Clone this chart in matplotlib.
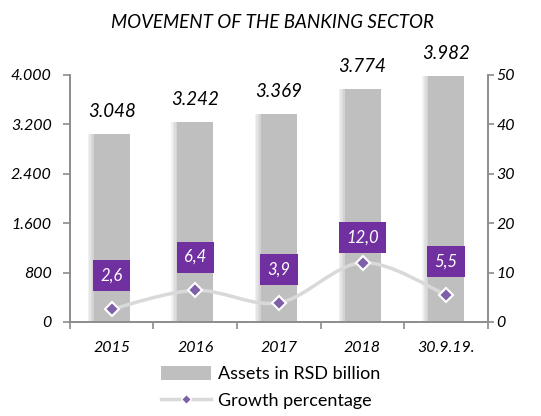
import matplotlib.pyplot as plt
import numpy as np
from matplotlib.path import Path
from matplotlib.patches import PathPatch
from matplotlib.lines import Line2D
from matplotlib.patches import Patch

periods = ['2015', '2016', '2017', '2018', '30.9.19.']
assets = [3048, 3242, 3369, 3774, 3982]
growth = [2.6, 6.4, 3.9, 12.0, 5.5]
asset_labels = ['3.048', '3.242', '3.369', '3.774', '3.982']
growth_labels = ['2,6', '6,4', '3,9', '12,0', '5,5']
left_ticks = [0, 800, 1600, 2400, 3200, 4000]
left_ticklabels = ['0', '800', '1.600', '2.400', '3.200', '4.000']
right_ticks = [0, 10, 20, 30, 40, 50]

plt.rcParams['font.family'] = ['Lato', 'DejaVu Sans']
grey = '#8c8c8c'
purple = '#7030A0'

fig = plt.figure(figsize=(5.41, 4.16), dpi=100)
ax = fig.add_axes([0.129, 0.226, 0.773, 0.594])
ax2 = ax.twinx()

x = np.arange(len(periods))
w = 0.43
# soft shadow on the left side of the bars
for k, a in enumerate([0.06, 0.06, 0.07, 0.08]):
    ax.bar(x - 0.018 * (k + 1), assets, width=w, color='#505050', alpha=a, zorder=1, linewidth=0)
ax.bar(x, assets, width=w, color='#BFBFBF', zorder=2, linewidth=0)

for xi, v, lab in zip(x, assets, asset_labels):
    ax.annotate(lab, (xi, v), xytext=(0, 10), textcoords='offset points',
                ha='center', va='bottom', fontsize=13.5, style='italic')

ax.set_xlim(-0.5, len(periods) - 0.5)
ax.set_ylim(0, 4000)
ax.set_yticks(left_ticks)
ax.set_yticklabels(left_ticklabels, fontsize=11.5, style='italic')
ax.set_xticks(np.arange(len(periods) + 1) - 0.5)
ax.set_xticklabels([])
ax.set_xticks(x, minor=True)
ax.set_xticklabels(periods, minor=True, fontsize=11.5, style='italic')
ax.tick_params(axis='x', which='minor', length=0, pad=14)
ax.tick_params(axis='x', which='major', length=5, color=grey, width=1.2)
ax.tick_params(axis='y', length=5, color=grey, width=1.2, pad=8)

ax.spines['top'].set_visible(False)
ax2.spines['top'].set_visible(False)
for s in ['left', 'bottom', 'right']:
    ax.spines[s].set_color(grey)
    ax.spines[s].set_linewidth(1.2)
    ax2.spines[s].set_color(grey)
    ax2.spines[s].set_linewidth(1.2)

ax2.set_ylim(0, 50)
ax2.set_yticks(right_ticks)
ax2.set_yticklabels([str(t) for t in right_ticks], fontsize=11.5, style='italic')
ax2.tick_params(axis='y', length=4, color=grey, width=1.2, pad=2)

# smoothed line (Catmull-Rom as cubic Bezier)
pts = np.column_stack([x, growth]).astype(float)
verts = [tuple(pts[0])]
codes = [Path.MOVETO]
t = 0.5 / 3
for i in range(len(pts) - 1):
    p0 = pts[i - 1] if i > 0 else pts[i]
    p1, p2 = pts[i], pts[i + 1]
    p3 = pts[i + 2] if i + 2 < len(pts) else pts[i + 1]
    c1 = p1 + (p2 - p0) * t
    c2 = p2 - (p3 - p1) * t
    verts += [tuple(c1), tuple(c2), tuple(p2)]
    codes += [Path.CURVE4] * 3
ax2.add_patch(PathPatch(Path(verts, codes), facecolor='none', edgecolor='#D9D9D9', lw=2.5, zorder=3))
ax2.plot(x, growth, linestyle='none', marker='D', markersize=7, markerfacecolor='#7F5FA8',
         markeredgecolor='white', markeredgewidth=1.5, zorder=4)

for xi, v, lab in zip(x, growth, growth_labels):
    off = 18 if v > 10 else 24
    ax2.annotate(lab, (xi, v), xytext=(0, off), textcoords='offset points', ha='center', va='center',
                 fontsize=12, style='italic', color='white', zorder=5,
                 bbox=dict(boxstyle='square,pad=0.45', fc=purple, ec='none'))

fig.text(0.503, 0.947, 'MOVEMENT OF THE BANKING SECTOR', ha='center', va='center',
         fontsize=13.5, style='italic')

handles = [Patch(facecolor='#BFBFBF', edgecolor='none'),
           Line2D([0], [0], color='#D9D9D9', lw=2.5, marker='D', markersize=5,
                  markerfacecolor='#7F5FA8', markeredgecolor='white')]
fig.legend(handles, ['Assets in RSD billion', 'Growth percentage'], loc='upper center',
           bbox_to_anchor=(0.5, 0.16), ncol=1, frameon=False, fontsize=13,
           handlelength=2.8, handleheight=0.8, labelspacing=0.6, handletextpad=0.35)

fig.savefig('out.png', dpi=100)
